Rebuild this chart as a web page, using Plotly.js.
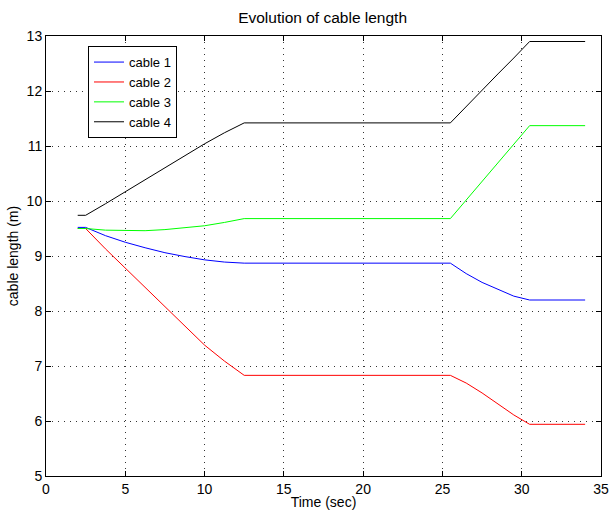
<!DOCTYPE html>
<html>
<head>
<meta charset="utf-8">
<script src="https://cdn.plot.ly/plotly-3.0.1.min.js"></script>
<style>html,body{margin:0;padding:0;background:#fff;}#chart{width:611px;height:510px;}</style>
</head>
<body>
<div id="chart"></div>
<script>
// Time samples (sec)
const t = [2, 2.5, 3.75, 5, 6.25, 7.5, 8.75, 10, 11.25, 12.5, 25.5, 26.5, 27.5, 28.5, 29.5, 30.5, 34];
const cable1 = [9.52, 9.52, 9.37, 9.25, 9.15, 9.06, 8.99, 8.93, 8.89, 8.87, 8.87, 8.68, 8.52, 8.39, 8.27, 8.20, 8.20];
const cable2 = [9.50, 9.50, 9.13, 8.78, 8.43, 8.08, 7.73, 7.38, 7.09, 6.83, 6.83, 6.69, 6.51, 6.31, 6.11, 5.94, 5.94];
const cable3 = [9.50, 9.50, 9.47, 9.46, 9.46, 9.48, 9.51, 9.55, 9.61, 9.68, 9.68, 10.02, 10.36, 10.70, 11.04, 11.37, 11.37];
const cable4 = [9.74, 9.74, 9.95, 10.17, 10.39, 10.60, 10.82, 11.04, 11.24, 11.42, 11.42, 11.72, 12.01, 12.31, 12.60, 12.90, 12.90];
const names = ['cable 1', 'cable 2', 'cable 3', 'cable 4'];
const colors = ['#0000ff', '#ff0000', '#00ff00', '#000000'];
const series = [cable1, cable2, cable3, cable4];

const traces = series.map((y, i) => ({
  x: t, y: y, type: 'scatter', mode: 'lines', name: names[i],
  line: {color: colors[i], width: 1}
}));

const fam = 'Liberation Sans, Arial, sans-serif';
const font = {family: fam, size: 14, color: '#000'};
const axisCommon = {
  showline: true, linecolor: '#000', linewidth: 1, mirror: 'allticks',
  ticks: 'inside', ticklen: 5, tickcolor: '#000',
  showgrid: true, gridcolor: '#333', griddash: '1px,5px', gridwidth: 1,
  zeroline: false, tickfont: font
};

const layout = {
  width: 611, height: 510,
  margin: {l: 46, r: 10, t: 36, b: 34},
  paper_bgcolor: '#fff', plot_bgcolor: '#fff',
  font: font,
  title: {text: 'Evolution of cable length', font: {family: fam, size: 15.5, color: '#000'}, x: 0.528, xanchor: 'center', y: 0.965, yanchor: 'middle'},
  xaxis: Object.assign({}, axisCommon, {range: [0, 35], dtick: 5, tick0: 0,
    title: {text: 'Time (sec)', font: {family: fam, size: 14}, standoff: 0}}),
  yaxis: Object.assign({}, axisCommon, {range: [5, 13], dtick: 1, tick0: 5,
    title: {text: 'cable length (m)', font: {family: fam, size: 14}, standoff: 4}}),
  showlegend: true,
  legend: {x: 0.0757, y: 0.977, xanchor: 'left', yanchor: 'top',
    bgcolor: '#fff', bordercolor: '#000', borderwidth: 1,
    font: {family: fam, size: 13, color: '#000'},
    itemwidth: 30, tracegroupgap: 0}
};

Plotly.newPlot('chart', traces, layout, {displayModeBar: false, staticPlot: true});
</script>
</body>
</html>
